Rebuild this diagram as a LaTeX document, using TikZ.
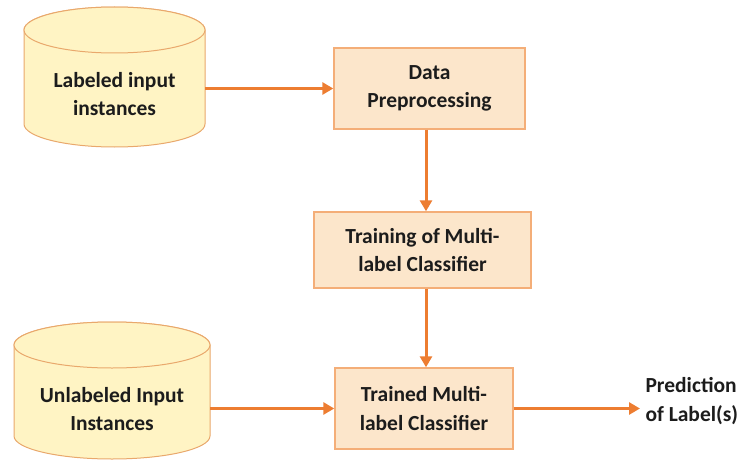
\documentclass[tikz,border=0pt]{standalone}
\usepackage{fontspec}
\setmainfont{Carlito}
\usetikzlibrary{arrows.meta}
\definecolor{flowline}{HTML}{ED7D31}
\definecolor{boxfill}{HTML}{FCE6CB}
\definecolor{boxline}{HTML}{F4AE78}
\definecolor{drumfill}{HTML}{FFF4C4}
\definecolor{drumline}{HTML}{E9A86C}
\definecolor{inktext}{HTML}{1C1C1C}
\begin{document}
\begin{tikzpicture}[x=1pt,y=1pt,
  lbl/.style={font=\fontsize{21.5}{28.5}\selectfont\bfseries, align=center, text=inktext},
  procbox/.style={lbl, draw=boxline, line width=1.4pt, fill=boxfill, inner sep=0pt},
  drum/.style={draw=drumline, line width=1pt, fill=drumfill},
  flow/.style={draw=flowline, line width=3pt, -{Triangle[length=11pt,width=12pt]}},
]
\useasboundingbox (0,0) rectangle (741,-460);

% data store for the labelled instances
\path[drum] (24,-30) -- (24,-124) arc[start angle=180,end angle=360,x radius=90.5,y radius=23]
  -- (205,-30) arc[start angle=0,end angle=180,x radius=90.5,y radius=23] -- cycle;
\path[drum] (114.5,-30) ellipse[x radius=90.5,y radius=23];
\node[lbl, minimum width=181, inner sep=0pt] (src) at (114.5,-94) {Labeled input\\instances};

% data store for the unlabelled instances
\path[drum] (14,-345) -- (14,-436) arc[start angle=180,end angle=360,x radius=98,y radius=23]
  -- (210,-345) arc[start angle=0,end angle=180,x radius=98,y radius=23] -- cycle;
\path[drum] (112,-345) ellipse[x radius=98,y radius=23];
\node[lbl, minimum width=196, inner sep=0pt] (unl) at (112,-409) {Unlabeled Input\\Instances};

% processing steps
\node[procbox, minimum width=191, minimum height=81] (prep) at (429.5,-88.5) {Data\\Preprocessing};
\node[procbox, minimum width=217, minimum height=76] (train) at (422.5,-250) {Training of Multi-\\label Classifier};
\node[procbox, minimum width=178, minimum height=81] (model) at (424,-408.5) {Trained Multi-\\label Classifier};

% output
\node[lbl, align=left, anchor=west] (pred) at (642,-401) {Prediction\\of Label(s)};
\coordinate (out) at (640,-408.5);
\coordinate (col) at (426,0);

% connectors
\draw[flow] (prep.west -| src.east) -- (prep.west);
\draw[flow] (prep.south -| col) -- (train.north -| col);
\draw[flow] (train.south -| col) -- (model.north -| col);
\draw[flow] (model.west -| unl.east) -- (model.west);
\draw[flow] (model.east) -- (out);
\end{tikzpicture}
\end{document}
